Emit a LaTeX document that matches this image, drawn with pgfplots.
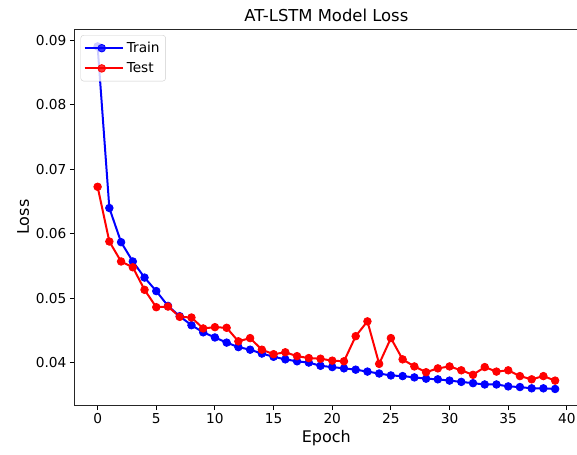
\documentclass[border=0pt]{standalone}
\usepackage{fontspec}
\setmainfont{DejaVu Sans}
\usepackage{pgfplots}
\pgfplotsset{compat=1.18}
\begin{document}
\begin{tikzpicture}
\begin{axis}[
  scale only axis,
  width=503pt, height=376pt,
  xmin=-1.95, xmax=40.95,
  ymin=0.03338, ymax=0.0918,
  xtick={0,5,...,40},
  ytick={0.04,0.05,0.06,0.07,0.08,0.09},
  yticklabel style={/pgf/number format/.cd,fixed,fixed zerofill,precision=2},
  /pgf/number format/assume math mode=true,
  scaled y ticks=false,
  tick align=outside,
  tick pos=left,
  major tick length=4.8pt,
  every tick/.style={black, line width=1pt},
  axis line style={black!85, line width=1pt},
  ticklabel style={font=\fontsize{13.7}{16}\selectfont},
  xlabel={Epoch}, ylabel={Loss},
  label style={font=\fontsize{16}{19}\selectfont},
  title={AT-LSTM Model Loss},
  title style={font=\fontsize{16.4}{19}\selectfont, yshift=-2pt},
  legend style={at={(0.0115,0.984)}, anchor=north west, draw=black!20, rounded corners=3pt,
    fill=white, fill opacity=0.8, text opacity=1, font=\fontsize{13.7}{16}\selectfont,
    inner xsep=3pt, inner ysep=5pt, row sep=4.5pt,
    nodes={inner xsep=3pt}},
  legend image code/.code={\draw[mark repeat=2,mark phase=2] plot coordinates {(0pt,0pt)(15pt,0pt)(30pt,0pt)};
    \path (-2pt,0pt) -- (36pt,0pt);},
  legend cell align=left,
]
\addplot[blue, line width=2pt, mark=*, mark size=3.8pt, mark options={solid, line width=0.8pt}] coordinates {
(0,0.0891)(1,0.0640)(2,0.0587)(3,0.0557)(4,0.0532)(5,0.0511)(6,0.0488)(7,0.0472)(8,0.0458)(9,0.0447)
(10,0.0439)(11,0.0431)(12,0.0424)(13,0.0420)(14,0.0414)(15,0.0409)(16,0.0405)(17,0.0402)(18,0.0400)(19,0.0395)
(20,0.0393)(21,0.0391)(22,0.0389)(23,0.0386)(24,0.0383)(25,0.0380)(26,0.0379)(27,0.0377)(28,0.0375)(29,0.0374)
(30,0.0372)(31,0.0370)(32,0.0368)(33,0.0366)(34,0.0366)(35,0.0363)(36,0.0362)(37,0.0360)(38,0.0360)(39,0.0359)
};
\addlegendentry{Train}
\addplot[red, line width=2pt, mark=*, mark size=3.8pt, mark options={solid, line width=0.8pt}] coordinates {
(0,0.0673)(1,0.0588)(2,0.0557)(3,0.0548)(4,0.0513)(5,0.0486)(6,0.0487)(7,0.0471)(8,0.0470)(9,0.0453)
(10,0.0455)(11,0.0454)(12,0.0433)(13,0.0438)(14,0.0420)(15,0.0413)(16,0.0416)(17,0.0410)(18,0.0407)(19,0.0406)
(20,0.0403)(21,0.0402)(22,0.0441)(23,0.0464)(24,0.0398)(25,0.0438)(26,0.0405)(27,0.0394)(28,0.0385)(29,0.0391)
(30,0.0394)(31,0.0388)(32,0.0381)(33,0.0393)(34,0.0386)(35,0.0388)(36,0.0379)(37,0.0374)(38,0.0379)(39,0.0372)
};
\addlegendentry{Test}
\end{axis}
\pgfresetboundingbox
\path ([xshift=-74.7pt,yshift=-49pt]current axis.south west) rectangle ([xshift=-1pt,yshift=29pt]current axis.north east);
\end{tikzpicture}
\end{document}
